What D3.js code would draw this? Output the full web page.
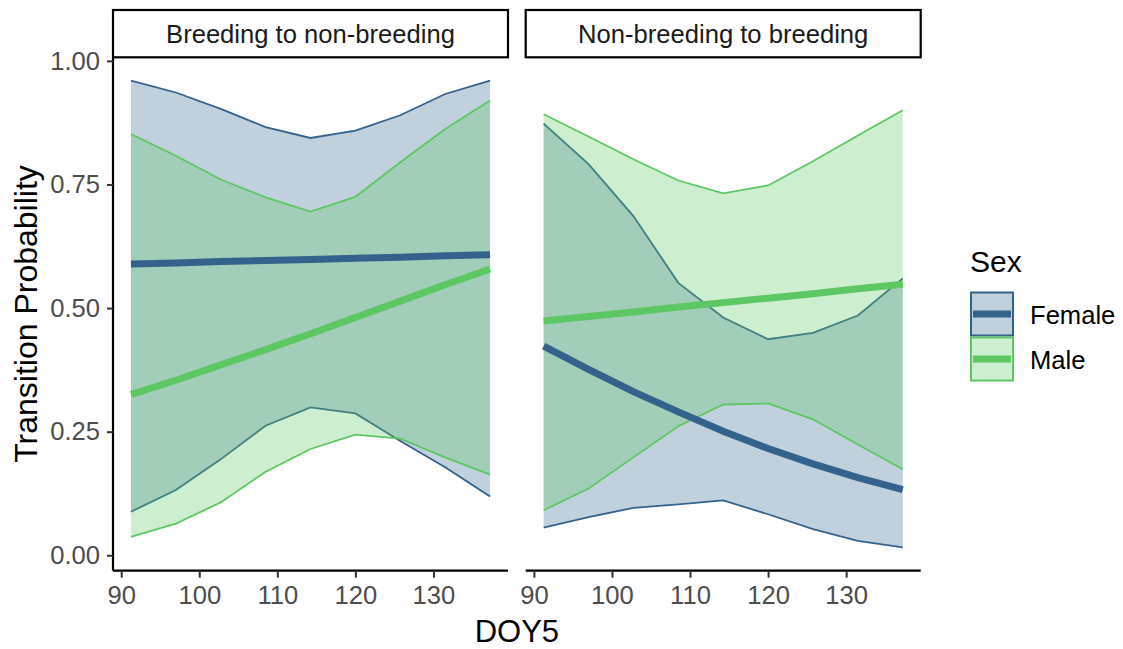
<!DOCTYPE html>
<html>
<head>
<meta charset="utf-8">
<script src="https://cdn.jsdelivr.net/npm/d3@7"></script>
<style>
  html, body { margin: 0; padding: 0; background: #fff; }
  svg { display: block; font-family: "Liberation Sans", Arial, sans-serif; }
</style>
</head>
<body>
<svg id="chart" width="1123" height="649"></svg>
<script>
// Day-of-year grid shared by every curve
const doy = [91.25, 97, 102.75, 108.5, 114.25, 120, 125.75, 131.5, 137.25];

const facets = ["Breeding to non-breeding", "Non-breeding to breeding"];
const sexes = ["Female", "Male"];

// Breeding to non-breeding
const bnFemaleFit   = [0.589, 0.591, 0.594, 0.596, 0.598, 0.601, 0.603, 0.606, 0.608];
const bnFemaleLower = [0.088, 0.132, 0.194, 0.262, 0.299, 0.287, 0.231, 0.178, 0.119];
const bnFemaleUpper = [0.960, 0.936, 0.903, 0.866, 0.844, 0.859, 0.890, 0.933, 0.960];
const bnMaleFit     = [0.325, 0.354, 0.385, 0.416, 0.448, 0.481, 0.514, 0.547, 0.579];
const bnMaleLower   = [0.037, 0.064, 0.107, 0.169, 0.215, 0.244, 0.236, 0.198, 0.163];
const bnMaleUpper   = [0.852, 0.808, 0.760, 0.724, 0.695, 0.725, 0.795, 0.862, 0.920];

// Non-breeding to breeding
const nbFemaleFit   = [0.423, 0.376, 0.331, 0.290, 0.251, 0.216, 0.185, 0.157, 0.133];
const nbFemaleLower = [0.056, 0.077, 0.096, 0.103, 0.111, 0.083, 0.053, 0.029, 0.016];
const nbFemaleUpper = [0.873, 0.791, 0.686, 0.551, 0.481, 0.437, 0.450, 0.485, 0.560];
const nbMaleFit     = [0.474, 0.483, 0.492, 0.502, 0.511, 0.520, 0.529, 0.539, 0.548];
const nbMaleLower   = [0.091, 0.135, 0.198, 0.261, 0.305, 0.307, 0.275, 0.224, 0.174];
const nbMaleUpper   = [0.892, 0.847, 0.801, 0.758, 0.732, 0.748, 0.797, 0.849, 0.900];

const xTicks = [90, 100, 110, 120, 130];
const yTicks = [0, 0.25, 0.5, 0.75, 1];

const colors = { Female: "#33638D", Male: "#5DC863" };

const smallFont = 25.6, titleFont = 31;

// Assemble per-facet series
function series(fit, lo, hi) {
  return doy.map((d, i) => ({ x: d, fit: fit[i], lo: lo[i], hi: hi[i] }));
}
const panels = [
  { title: facets[0], groups: {
      Female: series(bnFemaleFit, bnFemaleLower, bnFemaleUpper),
      Male:   series(bnMaleFit, bnMaleLower, bnMaleUpper) } },
  { title: facets[1], groups: {
      Female: series(nbFemaleFit, nbFemaleLower, nbFemaleUpper),
      Male:   series(nbMaleFit, nbMaleLower, nbMaleUpper) } }
];

const svg = d3.select("#chart");

// Panel geometry
const panelTop = 57.3, panelBottom = 570.7;
const panelLefts = [113, 525.7];
const panelW = 395;
const stripTop = 10;

// Scales with 5% padding around the data range
const allY = [].concat(bnFemaleLower, bnFemaleUpper, bnMaleLower, bnMaleUpper,
                       nbFemaleLower, nbFemaleUpper, nbMaleLower, nbMaleUpper);
const [x0, x1] = d3.extent(doy);
const [y0, y1] = d3.extent(allY);
const xPad = (x1 - x0) * 0.05, yPad = (y1 - y0) * 0.05;

const y = d3.scaleLinear().domain([y0 - yPad, y1 + yPad]).range([panelBottom, panelTop]);

panels.forEach((p, pi) => {
  const left = panelLefts[pi];
  const x = d3.scaleLinear().domain([x0 - xPad, x1 + xPad]).range([left, left + panelW]);
  const g = svg.append("g");

  // confidence ribbons: Female first, then Male on top
  sexes.forEach(s => {
    const data = p.groups[s];
    g.append("path")
      .datum(data)
      .attr("d", d3.area().x(d => x(d.x)).y0(d => y(d.lo)).y1(d => y(d.hi)))
      .attr("fill", colors[s]).attr("fill-opacity", 0.3).attr("stroke", "none");
    ["lo", "hi"].forEach(k => {
      g.append("path")
        .datum(data)
        .attr("d", d3.line().x(d => x(d.x)).y(d => y(d[k])))
        .attr("fill", "none").attr("stroke", colors[s]).attr("stroke-width", 1.8);
    });
  });

  // fitted curves
  sexes.forEach(s => {
    g.append("path")
      .datum(p.groups[s])
      .attr("d", d3.line().x(d => x(d.x)).y(d => y(d.fit)))
      .attr("fill", "none").attr("stroke", colors[s]).attr("stroke-width", 7);
  });

  // facet strip
  svg.append("rect")
    .attr("x", left).attr("y", stripTop)
    .attr("width", panelW).attr("height", panelTop - stripTop)
    .attr("fill", "#fff").attr("stroke", "#000").attr("stroke-width", 2.2);
  svg.append("text")
    .attr("x", left + panelW / 2).attr("y", (stripTop + panelTop) / 2)
    .attr("text-anchor", "middle").attr("dominant-baseline", "central")
    .attr("font-size", smallFont).attr("fill", "#1A1A1A")
    .text(p.title);

  // x axis
  const xa = svg.append("g").attr("transform", `translate(0,${panelBottom})`)
    .call(d3.axisBottom(x).tickValues(xTicks).tickFormat(d3.format("d")).tickSize(7).tickPadding(8));
  xa.select(".domain").attr("stroke", "#000").attr("stroke-width", 2.2)
    .attr("d", `M${left},0H${left + panelW}`);
  xa.selectAll(".tick line").attr("stroke", "#333").attr("stroke-width", 2);
  xa.selectAll(".tick text").attr("font-size", smallFont).attr("fill", "#4D4D4D")
    .attr("font-family", "'Liberation Sans', Arial, sans-serif");

  // y axis on the first panel only
  if (pi === 0) {
    const ya = svg.append("g").attr("transform", `translate(${left},0)`)
      .call(d3.axisLeft(y).tickValues(yTicks).tickFormat(d3.format(".2f")).tickSize(6).tickPadding(7));
    ya.select(".domain").attr("stroke", "#000").attr("stroke-width", 2.2)
      .attr("d", `M0,${panelTop}V${panelBottom}`);
    ya.selectAll(".tick line").attr("stroke", "#333").attr("stroke-width", 2);
    ya.selectAll(".tick text").attr("font-size", smallFont).attr("fill", "#4D4D4D")
      .attr("font-family", "'Liberation Sans', Arial, sans-serif");
  }
});

// axis titles
svg.append("text")
  .attr("x", (panelLefts[0] + panelLefts[1] + panelW) / 2).attr("y", 642)
  .attr("text-anchor", "middle")
  .attr("font-size", titleFont).attr("fill", "#000").text("DOY5");
svg.append("text")
  .attr("transform", `translate(26,${(panelTop + panelBottom) / 2}) rotate(-90)`)
  .attr("text-anchor", "middle").attr("dominant-baseline", "central")
  .attr("font-size", 32).attr("fill", "#000").text("Transition Probability");

// legend
const lg = svg.append("g").attr("transform", "translate(970,0)");
lg.append("text").attr("x", 0).attr("y", 272).attr("font-size", 30).attr("fill", "#000").text("Sex");
sexes.forEach((s, i) => {
  const top = 292.5 + i * 45;
  lg.append("rect").attr("x", 1).attr("y", top).attr("width", 42).attr("height", 43)
    .attr("fill", colors[s]).attr("fill-opacity", 0.3)
    .attr("stroke", colors[s]).attr("stroke-width", 2);
  lg.append("line").attr("x1", 3).attr("x2", 41).attr("y1", top + 21.5).attr("y2", top + 21.5)
    .attr("stroke", colors[s]).attr("stroke-width", 7);
  lg.append("text").attr("x", 60).attr("y", top + 22).attr("dominant-baseline", "central")
    .attr("font-size", smallFont).attr("fill", "#000").text(s);
});
</script>
</body>
</html>
